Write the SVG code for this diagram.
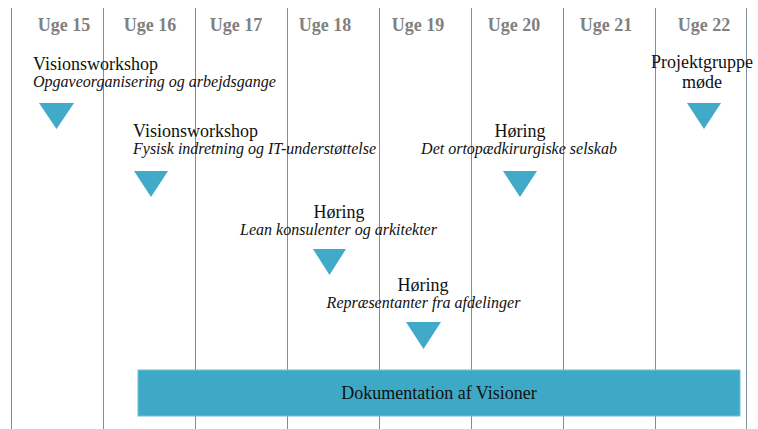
<svg xmlns="http://www.w3.org/2000/svg" width="758" height="429" viewBox="0 0 758 429">
<style>
.grid line{stroke:#7d8f99;stroke-width:1}
.hdr{font-family:"Liberation Serif",serif;font-weight:bold;font-size:18px;fill:#808080;text-anchor:middle}
.t{font-family:"Liberation Serif",serif;font-size:18px;fill:#111}
.i{font-family:"Liberation Serif",serif;font-size:16px;font-style:italic;fill:#111}
.c{text-anchor:middle}
.tri{fill:#41aac8}
</style>
<rect width="758" height="429" fill="#fff"/>
<g id="grid" class="grid">
<line x1="11.5" y1="8" x2="11.5" y2="429"/>
<line x1="103.5" y1="8" x2="103.5" y2="429"/>
<line x1="195.5" y1="8" x2="195.5" y2="429"/>
<line x1="287.5" y1="8" x2="287.5" y2="429"/>
<line x1="379.5" y1="8" x2="379.5" y2="429"/>
<line x1="471.5" y1="8" x2="471.5" y2="429"/>
<line x1="563.5" y1="8" x2="563.5" y2="429"/>
<line x1="655.5" y1="8" x2="655.5" y2="429"/>
<line x1="746.5" y1="8" x2="746.5" y2="429"/>
</g>
<g id="headers">
<text class="hdr" x="64" y="31">Uge 15</text>
<text class="hdr" x="150" y="31">Uge 16</text>
<text class="hdr" x="236" y="31">Uge 17</text>
<text class="hdr" x="325" y="31">Uge 18</text>
<text class="hdr" x="418" y="31">Uge 19</text>
<text class="hdr" x="514" y="31">Uge 20</text>
<text class="hdr" x="606" y="31">Uge 21</text>
<text class="hdr" x="704" y="31">Uge 22</text>
</g>
<g id="bar">
<rect x="138" y="370" width="602" height="46" fill="#3ea9c7" stroke="#6cc0d6" stroke-width="1"/>
<text class="t c" x="439" y="399">Dokumentation af Visioner</text>
</g>
<g id="event1">
<text class="t" x="33" y="70">Visionsworkshop</text>
<text class="i" x="33" y="87">Opgaveorganisering og arbejdsgange</text>
<polygon class="tri" points="39,103 74,103 56.5,129"/>
</g>
<g id="event2">
<text class="t" x="133" y="137">Visionsworkshop</text>
<text class="i" x="133" y="154">Fysisk indretning og IT-understøttelse</text>
<polygon class="tri" points="134,171 168,171 151,197"/>
</g>
<g id="event3">
<text class="t c" x="520" y="137">Høring</text>
<text class="i c" x="519" y="154">Det ortopædkirurgiske selskab</text>
<polygon class="tri" points="503,171 537,171 520,197"/>
</g>
<g id="event4">
<text class="t c" x="702" y="68">Projektgruppe</text>
<text class="t c" x="702" y="88">møde</text>
<polygon class="tri" points="687,103 721,103 704,129"/>
</g>
<g id="event5">
<text class="t c" x="339" y="218">Høring</text>
<text class="i c" x="338.5" y="235">Lean konsulenter og arkitekter</text>
<polygon class="tri" points="313,249 346,249 329.5,275"/>
</g>
<g id="event6">
<text class="t c" x="423" y="291">Høring</text>
<text class="i c" x="423.5" y="308">Repræsentanter fra afdelinger</text>
<polygon class="tri" points="406,322 441,322 423.5,349"/>
</g>
</svg>
